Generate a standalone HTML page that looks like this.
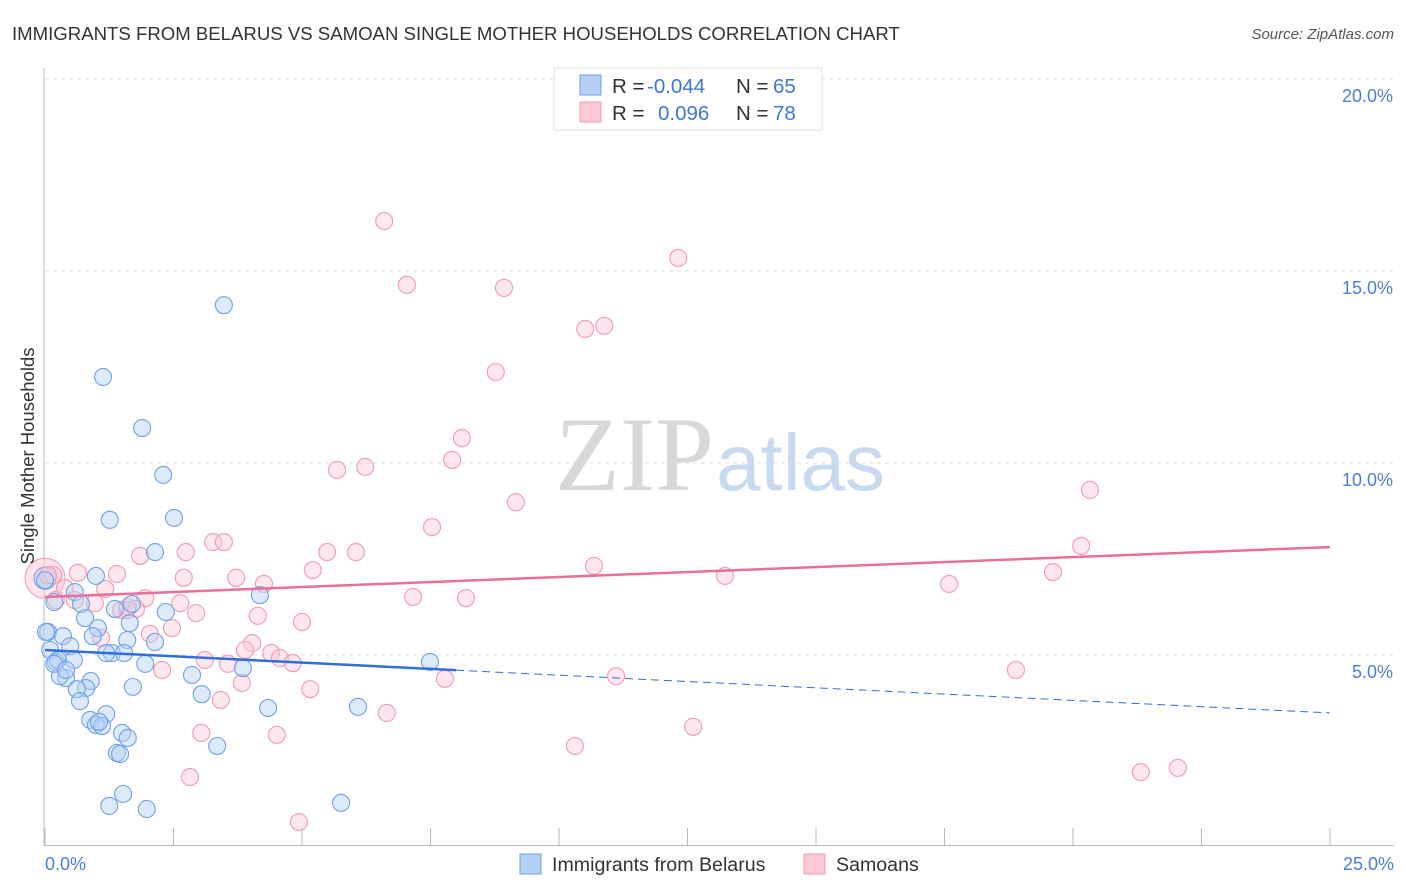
<!DOCTYPE html>
<html><head><meta charset="utf-8">
<style>
body{margin:0;background:#fff;font-family:"Liberation Sans",sans-serif;}
#wrap{position:relative;width:1406px;height:892px;overflow:hidden;}
svg{position:absolute;left:0;top:0;}
</style></head>
<body>
<div id="wrap">
<svg id="chart" width="1406" height="892">
  <text x="12" y="40" font-size="18.6" fill="#333">IMMIGRANTS FROM BELARUS VS SAMOAN SINGLE MOTHER HOUSEHOLDS CORRELATION CHART</text>
  <text x="1394" y="39" font-size="15" fill="#555" font-style="italic" text-anchor="end">Source: ZipAtlas.com</text>
  <text x="555" y="490" font-size="106" fill="#d8d8d8" font-family="Liberation Serif, serif">ZIP</text>
  <text x="716" y="490" font-size="80" fill="#c8daf0">atlas</text>
  <g id="grid"></g>
  <g id="axes"></g>
  <g id="marks"></g>
  <g id="lines"></g>
  <text transform="translate(34,456) rotate(-90)" font-size="18.5" fill="#333" text-anchor="middle">Single Mother Households</text>
  <text x="45" y="870" font-size="18" fill="#4a7fd4">0.0%</text>
  <text x="1394" y="870" font-size="18" fill="#4a7fd4" text-anchor="end">25.0%</text>
  <g>
    <rect x="554" y="68" width="268" height="62" fill="#fff" stroke="#ddd"/>
    <rect x="580" y="75" width="21" height="20" fill="#b4d0f5" stroke="#6fa0e6"/>
    <rect x="580" y="102" width="21" height="20" fill="#fcc9d7" stroke="#f09ab4"/>
    <text x="612" y="93" font-size="20.5" fill="#333">R = <tspan fill="#3d78d8" x="647">-0.044</tspan></text>
    <text x="736" y="93" font-size="20.5" fill="#333">N = <tspan fill="#3d78d8" x="773">65</tspan></text>
    <text x="612" y="120" font-size="20.5" fill="#333">R = <tspan fill="#3d78d8" x="658">0.096</tspan></text>
    <text x="736" y="120" font-size="20.5" fill="#333">N = <tspan fill="#3d78d8" x="773">78</tspan></text>
  </g>
  <g>
    <rect x="520" y="854" width="21" height="20" fill="#b4d0f5" stroke="#6fa0e6"/>
    <text x="552" y="871" font-size="19.6" fill="#333">Immigrants from Belarus</text>
    <rect x="804" y="854" width="21" height="20" fill="#fcc9d7" stroke="#f09ab4"/>
    <text x="836" y="871" font-size="19.6" fill="#333">Samoans</text>
  </g>
</svg>
</div>
<script>
const yTicks=[5,10,15,20];
const yTickLabels=["5.0%","10.0%","15.0%","20.0%"];
const xTicks=[0,2.5,5,7.5,10,12.5,15,17.5,20,22.5,25];
const blueX=[3.48,1.13,1.89,2.30,1.26,2.51,2.14,0.99,0.58,0.70,0.18,1.36,1.69,2.35,1.65,0.78,0.06,0.35,1.03,0.93,1.60,2.14,0.49,0.10,1.30,1.54,0.56,0.21,0.25,1.95,3.85,0.41,0.29,0.89,0.80,0.62,1.71,2.86,3.05,0.68,4.34,6.09,1.19,0.88,0.99,1.11,1.50,1.61,1.40,1.46,3.35,1.52,1.25,1.98,5.76,7.49,4.18,0.02,0.18,1.19,0.41,1.05,0.0];
const blueY=[14.11,12.24,10.91,9.69,8.52,8.57,7.68,7.06,6.64,6.33,6.38,6.20,6.33,6.12,5.83,5.96,5.60,5.49,5.70,5.49,5.39,5.34,5.23,5.13,5.05,5.05,4.87,4.82,4.87,4.77,4.66,4.40,4.45,4.32,4.14,4.11,4.17,4.48,3.98,3.80,3.62,3.65,3.46,3.31,3.18,3.15,2.97,2.84,2.45,2.42,2.63,1.38,1.07,0.99,1.15,4.82,6.56,5.60,4.77,5.05,4.61,3.26,6.95];
const pinkX=[6.60,12.32,7.04,8.93,10.51,10.88,8.77,8.11,7.92,5.68,6.23,9.16,20.33,7.53,20.16,5.49,6.05,2.74,1.85,3.27,3.48,10.68,19.61,5.21,13.23,1.40,0.64,3.72,2.70,4.26,17.59,0.39,1.17,1.95,2.63,7.16,8.19,0.21,0.97,1.48,1.60,1.77,2.94,4.14,5.00,2.47,2.04,1.09,4.03,3.89,4.40,4.57,4.82,3.11,3.56,2.28,3.83,18.89,11.11,7.78,5.16,3.42,6.65,12.61,3.04,4.51,10.31,2.82,21.32,22.04,4.94,0.16,0.58,1.61,0.06];
const pinkY=[16.30,15.34,14.64,14.56,13.49,13.57,12.37,10.65,10.08,9.82,9.90,8.98,9.30,8.33,7.84,7.68,7.68,7.68,7.58,7.94,7.94,7.32,7.16,7.21,7.06,7.11,7.14,7.01,7.01,6.85,6.85,6.74,6.72,6.48,6.35,6.51,6.48,6.43,6.35,6.17,6.17,6.20,6.09,6.02,5.86,5.70,5.55,5.44,5.31,5.13,5.05,4.92,4.79,4.87,4.77,4.61,4.27,4.61,4.45,4.38,4.11,3.83,3.49,3.13,2.97,2.92,2.63,1.82,1.95,2.06,0.65,7.08,6.43,6.25,7.08];
const blueTrend=[5.13,3.49]; const blueSolidEnd=8.0;
const pinkTrend=[6.51,7.81];
const X0=45,X1=1330,Y0=847,PXY=38.4;
function sx(v){return X0+v/25*(X1-X0);}
function sy(v){return Y0-v*PXY;}
const NS="http://www.w3.org/2000/svg";
function mk(tag,attrs,parent){const e=document.createElementNS(NS,tag);for(const k in attrs)e.setAttribute(k,attrs[k]);parent.appendChild(e);return e;}
const grid=document.getElementById('grid'),axes=document.getElementById('axes'),marks=document.getElementById('marks'),lines=document.getElementById('lines');
yTicks.forEach((t,i)=>{
  const l=mk('line',{x1:X0,x2:1394,y1:sy(t),y2:sy(t),stroke:'#ddd','stroke-dasharray':'4,4'},grid);
  
  
  const tx=mk('text',{x:1393,y:sy(t)+23,'font-size':18,fill:'#4a7fd4','text-anchor':'end'},grid);
  tx.textContent=yTickLabels[i];
  
  
});
const ya=mk('line',{x1:44,x2:44,y1:68,y2:846,stroke:'#bbb'},axes);


const xa=mk('line',{x1:44,x2:1394,y1:845.5,y2:845.5,stroke:'#bbb'},axes);


xTicks.forEach(t=>{
  const l=mk('line',{x1:sx(t),x2:sx(t),y1:828,y2:845,stroke:'#bbb'},axes);
  
  
});
function dots(xs,ys,fill,stroke,name){
  xs.forEach((x,i)=>{
    const c=mk('circle',{cx:sx(x),cy:sy(ys[i]),r:8.5,fill:fill,'fill-opacity':0.45,stroke:stroke,'stroke-width':1.1},marks);
    
    
  });
}
const big=mk('circle',{cx:sx(0),cy:sy(7.0),r:20,fill:'#fcc9d7','fill-opacity':0.5,stroke:'#f09ab4'},marks);


const bigb=mk('circle',{cx:sx(0),cy:sy(7.0),r:11,fill:'#b4d0f5','fill-opacity':0.5,stroke:'#6fa0e6'},marks);


dots(pinkX,pinkY,'#fcc9d7','#f09ab4','samoans-point');
dots(blueX,blueY,'#b4d0f5','#6fa0e6','belarus-point');
function ty(tr,x){return tr[0]+(tr[1]-tr[0])*x/25;}
const pl=mk('line',{x1:sx(0),y1:sy(ty(pinkTrend,0)),x2:sx(25),y2:sy(ty(pinkTrend,25)),stroke:'#e8709a','stroke-width':2.5},lines);


const bl=mk('line',{x1:sx(0),y1:sy(ty(blueTrend,0)),x2:sx(blueSolidEnd),y2:sy(ty(blueTrend,blueSolidEnd)),stroke:'#2f6fd8','stroke-width':2.5},lines);


const bd=mk('line',{x1:sx(blueSolidEnd),y1:sy(ty(blueTrend,blueSolidEnd)),x2:sx(25),y2:sy(ty(blueTrend,25)),stroke:'#2f6fd8','stroke-width':1,'stroke-dasharray':'8,5'},lines);


</script>
</body></html>
